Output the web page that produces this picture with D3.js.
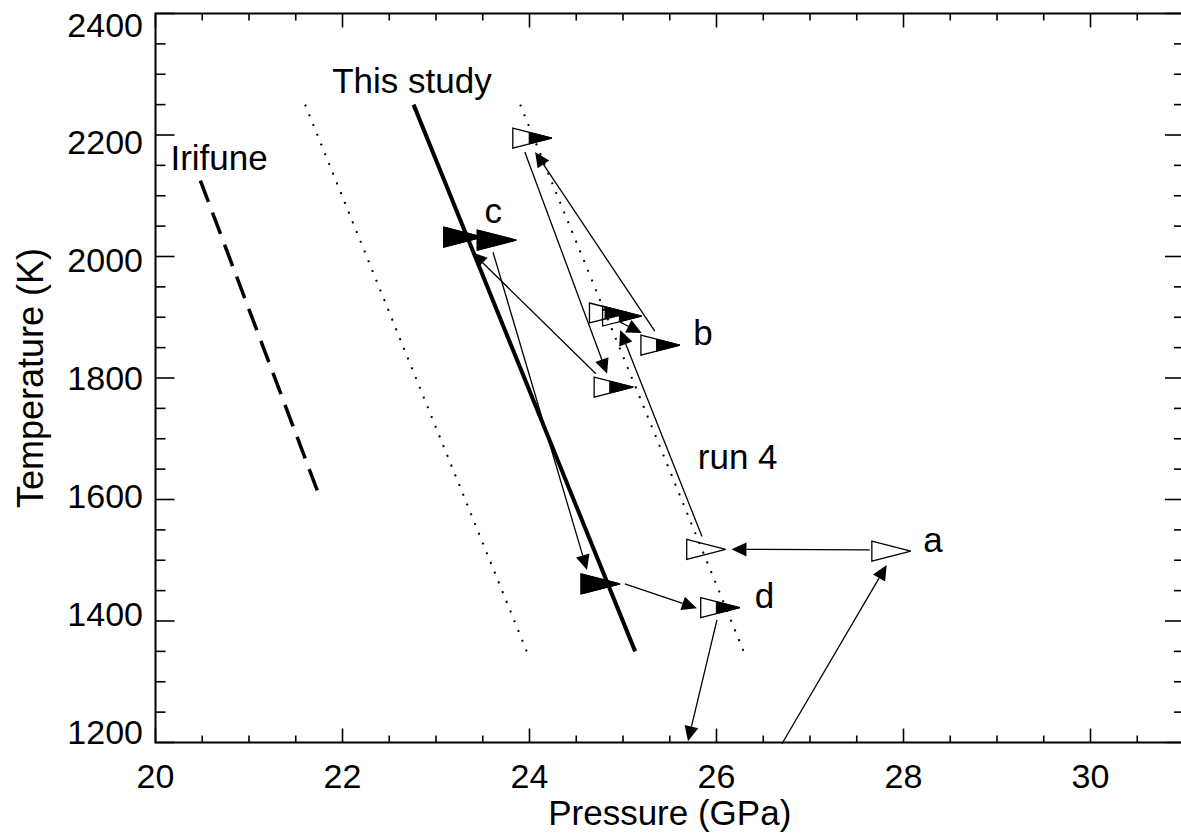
<!DOCTYPE html>
<html><head><meta charset="utf-8">
<script src="https://cdn.jsdelivr.net/npm/d3@7"></script>
<style>body{margin:0;background:#fff;} text{font-family:"Liberation Sans",Arial,sans-serif;}</style>
</head><body>
<svg id="chart" width="1181" height="834"></svg>
<script>
// ---- data ----
const xTicks = [20, 22, 24, 26, 28, 30];
const xMinorStep = 0.5;
const yTicks = [1200, 1400, 1600, 1800, 2000, 2200, 2400];
const yMinorStep = 50;

const irifuneLine = [[20.48, 2125], [21.73, 1615]];
const thisStudyLine = [[22.76, 2250], [25.13, 1350]];
const boundLowLine = [[21.60, 2250], [23.97, 1350]];
const boundHighLine = [[23.90, 2250], [26.29, 1350]];

// symbols: pressure, temperature, fraction of the triangle (from the left) where the black part starts (1 = open)
const symP = [24.03, 24.85, 24.99, 25.40, 24.90, 23.29, 23.65, 24.76, 26.04, 25.89, 27.87];
const symT = [2195, 1907, 1902, 1854, 1785, 2032, 2027, 1461, 1422, 1518, 1515];
const symBlackFrom = [0.42, 0.40, 0.43, 0.40, 0.40, 0, 0, 0, 0.40, 1, 1];

// arrows: [P0, T0, P1, T1]
const arrows = [
  [27.64, 1517, 26.16, 1518],
  [26.70, 1198, 27.82, 1492],
  [25.845, 1539, 24.97, 1879],
  [24.97, 1892, 25.20, 1874],
  [25.34, 1877, 24.06, 2172],
  [23.95, 2172, 24.83, 1807],
  [24.71, 1807, 23.385, 2007],
  [23.61, 2007, 24.615, 1484],
  [25.02, 1461, 25.79, 1421],
  [26.005, 1402, 25.695, 1202]
];

const labels = [
  {text: "Irifune", P: 20.16, T: 2142},
  {text: "This study", P: 21.89, T: 2269},
  {text: "c", P: 23.52, T: 2055},
  {text: "b", P: 25.75, T: 1854},
  {text: "run 4", P: 25.80, T: 1650},
  {text: "a", P: 28.21, T: 1514},
  {text: "d", P: 26.41, T: 1421}
];

// ---- drawing ----
const svg = d3.select("#chart");
const x = d3.scaleLinear().domain([20, 31]).range([155.5, 1184]);
const y = d3.scaleLinear().domain([1200, 2400]).range([742.5, 13.5]);
// y tick labels sit slightly inside the frame at both ends (as in the reference)
const yLab = d3.scaleLinear().domain([1200, 2400]).range([731.5, 24.5]);

const g = svg.append("g");

// frame
g.append("rect").attr("x", x(20)).attr("y", y(2400)).attr("width", x(31) - x(20)).attr("height", y(1200) - y(2400))
  .attr("stroke", "#000").attr("stroke-width", 2).attr("fill", "none");

// ticks
const xMinor = d3.range(20, 31.001, xMinorStep);
const yMinor = d3.range(1200, 2400.001, yMinorStep);
const tk = g.append("g").attr("stroke", "#000").attr("stroke-width", 1.6);
xMinor.forEach(v => {
  const major = Math.abs(v % 2) < 1e-9;
  const len = major ? 14 : 7;
  tk.append("line").attr("x1", x(v)).attr("x2", x(v)).attr("y1", y(1200)).attr("y2", y(1200) - len);
  tk.append("line").attr("x1", x(v)).attr("x2", x(v)).attr("y1", y(2400)).attr("y2", y(2400) + len);
});
yMinor.forEach(v => {
  const major = v % 200 === 0;
  const len = major ? 19 : 10;
  tk.append("line").attr("y1", y(v)).attr("y2", y(v)).attr("x1", x(20)).attr("x2", x(20) + len);
  tk.append("line").attr("y1", y(v)).attr("y2", y(v)).attr("x1", x(31)).attr("x2", x(31) - len);
});

// tick labels
const fsTick = 34, fsLab = 35, fsTitle = 35;
g.append("g").selectAll("text").data(xTicks).join("text")
  .attr("x", d => x(d)).attr("y", 788).attr("text-anchor", "middle")
  .attr("font-size", fsTick).text(d => d);
g.append("g").selectAll("text").data(yTicks).join("text")
  .attr("x", 143).attr("y", d => yLab(d) + 12).attr("text-anchor", "end")
  .attr("font-size", fsTick).text(d => d);

// axis titles, centred on the axes
g.append("text").attr("x", (x(20) + x(31)) / 2).attr("y", 825).attr("text-anchor", "middle")
  .attr("font-size", fsTitle).text("Pressure (GPa)");
g.append("text").attr("transform", `translate(43,${(y(1200) + y(2400)) / 2}) rotate(-90)`)
  .attr("text-anchor", "middle").attr("font-size", 36).text("Temperature (K)");

const line = d3.line().x(d => x(d[0])).y(d => y(d[1]));

// reference lines
const irPath = g.append("path").attr("d", line(irifuneLine)).attr("stroke", "#000").attr("stroke-width", 3.5)
  .attr("fill", "none");
{
  const Lr = irPath.node().getTotalLength();
  const n = 10, d = Lr / (n + (n - 1) * 0.5);
  irPath.attr("stroke-dasharray", `${d},${d * 0.5}`);
}
g.append("path").attr("d", line(thisStudyLine)).attr("stroke", "#000").attr("stroke-width", 4).attr("fill", "none");
[boundLowLine, boundHighLine].forEach(l => {
  g.append("path").attr("d", line(l)).attr("stroke", "#000").attr("stroke-width", 2)
    .attr("stroke-dasharray", "2,8.5").attr("fill", "none");
});

// symbols (right-pointing triangles), centred on the data point
const halfW = 19.5, halfH = 10;
const symG = g.append("g");
symP.forEach((p, i) => {
  const cx = x(p), cy = y(symT[i]);
  const f = symBlackFrom[i];
  const x0 = cx - halfW, x1 = cx + halfW;
  if (f < 1) {
    const xb = x0 + f * (x1 - x0);
    const hb = halfH * (1 - f);
    symG.append("polygon").attr("points", `${xb},${cy - hb} ${x1},${cy} ${xb},${cy + hb}`)
      .attr("fill", "#000").attr("stroke", "#000").attr("stroke-width", 1);
  }
  symG.append("polygon").attr("points", `${x0},${cy - halfH} ${x1},${cy} ${x0},${cy + halfH}`)
    .attr("fill", "none").attr("stroke", "#000").attr("stroke-width", 1.3);
});

// arrows
const arrG = g.append("g");
const headL = 15, headW = 7;
arrows.forEach(a => {
  const xa = x(a[0]), ya = y(a[1]), xb = x(a[2]), yb = y(a[3]);
  const dx = xb - xa, dy = yb - ya, L = Math.hypot(dx, dy);
  const ux = dx / L, uy = dy / L;
  const bx = xb - ux * headL, by = yb - uy * headL;
  arrG.append("line").attr("x1", xa).attr("y1", ya).attr("x2", bx).attr("y2", by)
    .attr("stroke", "#000").attr("stroke-width", 1.3);
  arrG.append("polygon")
    .attr("points", `${xb},${yb} ${bx - uy * headW},${by + ux * headW} ${bx + uy * headW},${by - ux * headW}`)
    .attr("fill", "#000");
});

// labels
g.append("g").selectAll("text").data(labels).join("text")
  .attr("x", d => x(d.P)).attr("y", d => y(d.T))
  .attr("font-size", fsLab).text(d => d.text);
</script>
</body></html>
